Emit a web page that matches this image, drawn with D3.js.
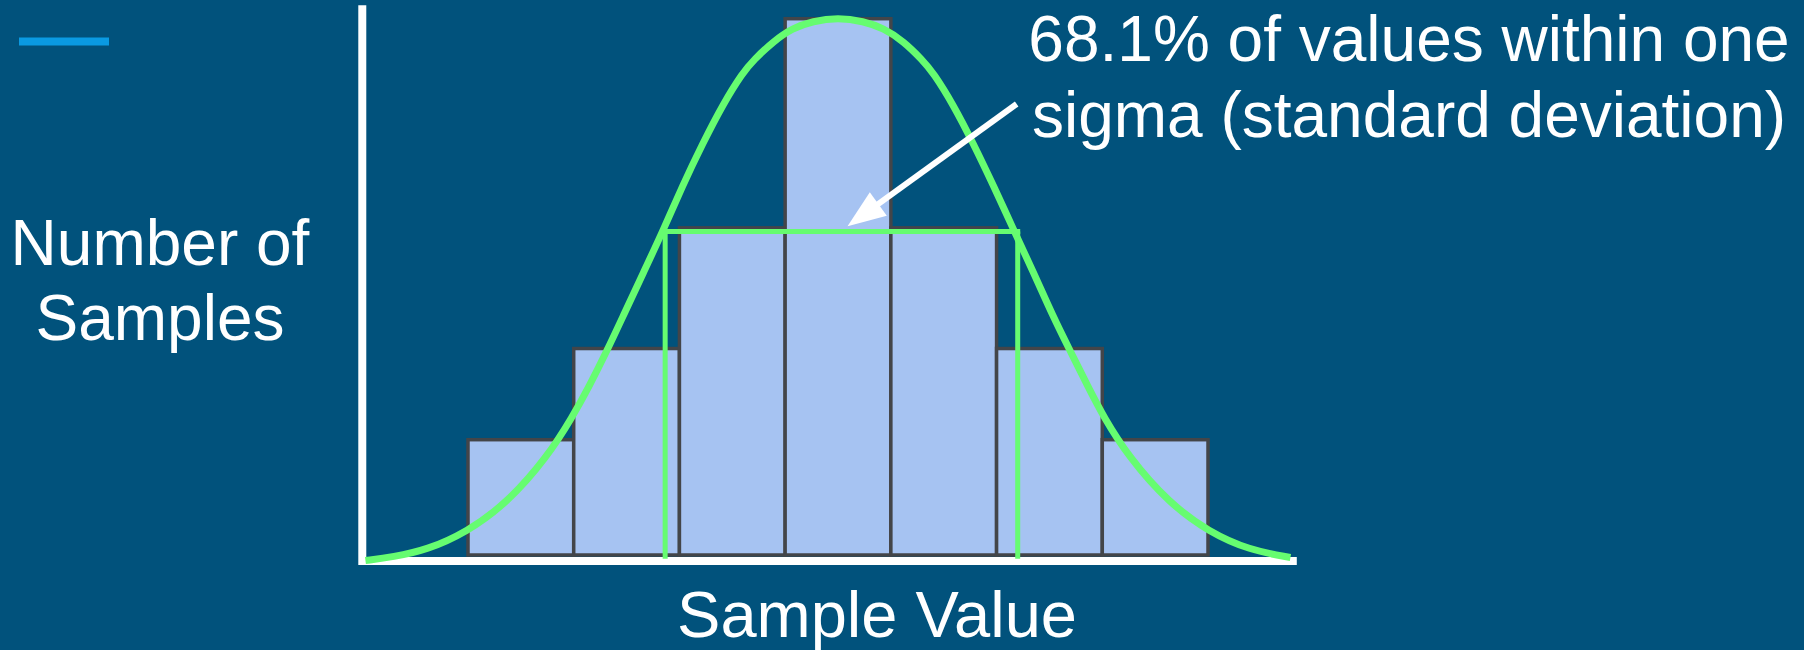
<!DOCTYPE html>
<html>
<head>
<meta charset="utf-8">
<title>Normal distribution - one sigma</title>
<script src="https://cdn.jsdelivr.net/npm/d3@7"></script>
<style>
  html, body { margin: 0; padding: 0; background: #01527c; }
  svg { display: block; }
  text { font-family: "Liberation Sans", Arial, sans-serif; fill: #ffffff; }
</style>
</head>
<body>
<div id="chart"></div>
<script>
// histogram bins (bin k covers sample value k..k+1)
const bins = [0, 1, 2, 3, 4, 5, 6];
const counts = [21.5, 38.5, 61, 100, 61, 38.5, 21.5];

// bell curve: [sample value, count]
const curveX = [-0.97, -0.71, -0.39, -0.01, 0.37, 0.75, 0.99, 1.14, 1.32, 1.47, 1.66, 1.85, 2.03, 2.22, 2.41, 2.60, 2.70, 2.89, 3.07, 3.26, 3.50,
                3.74, 3.93, 4.12, 4.30, 4.40, 4.59, 4.78, 4.97, 5.16, 5.35, 5.53, 5.69, 5.87, 6.01, 6.25, 6.63, 7.01, 7.39, 7.78];
const curveY = [-1.03, -0.37, 0.93, 4.29, 9.70, 18.27, 25.83, 31.21, 38.30, 44.66, 52.68, 60.69, 68.90, 76.73, 84.00, 89.97, 92.26, 95.80, 98.23, 99.53, 100.2,
                99.53, 98.23, 95.80, 92.26, 89.97, 84.00, 76.73, 68.90, 60.69, 52.68, 44.66, 38.30, 31.21, 25.83, 18.27, 9.70, 4.29, 0.93, -0.47];

// one sigma either side and the level where the curve crosses it
const sigmaX = [1.865, 5.2];
const sigmaLevel = 60.3;

// axis extent in data units
const xAxisRange = [-1.03, 7.84];
const yAxisRange = [-1.1, 102.5];

// arrow: from label to the sigma band
const arrowFrom = [5.19, 84.1];
const arrowTo = [3.59, 61.3];

const W = 1804, H = 650;
const svg = d3.select("#chart").append("svg")
    .attr("width", W)
    .attr("height", H);

svg.append("rect").attr("width", W).attr("height", H).attr("fill", "#01527c");

const x = d3.scaleLinear().domain([0, 7]).range([468, 1208]);
const y = d3.scaleLinear().domain([0, 100]).range([555, 18.7]);

// little blue dash top left
svg.append("line")
    .attr("x1", 19).attr("x2", 109)
    .attr("y1", 41.5).attr("y2", 41.5)
    .attr("stroke", "#0a9ae2")
    .attr("stroke-width", 8);

// bars
svg.append("g")
    .selectAll("rect")
    .data(bins)
    .join("rect")
    .attr("x", d => x(d))
    .attr("width", d => x(d + 1) - x(d))
    .attr("y", (d, i) => y(counts[i]))
    .attr("height", (d, i) => y(0) - y(counts[i]))
    .attr("fill", "#a6c3f2")
    .attr("stroke", "#434549")
    .attr("stroke-width", 3.5);

// axes
svg.append("line")
    .attr("x1", x(xAxisRange[0])).attr("x2", x(xAxisRange[1]))
    .attr("y1", y(yAxisRange[0])).attr("y2", y(yAxisRange[0]))
    .attr("stroke", "#ffffff").attr("stroke-width", 8);
svg.append("line")
    .attr("x1", x(-1.0)).attr("x2", x(-1.0))
    .attr("y1", y(yAxisRange[1])).attr("y2", y(yAxisRange[0]) + 4)
    .attr("stroke", "#ffffff").attr("stroke-width", 8);

// sigma lines
const green = "#66fc70";
sigmaX.forEach(s => {
    svg.append("line")
        .attr("x1", x(s)).attr("x2", x(s))
        .attr("y1", y(sigmaLevel)).attr("y2", y(-0.7))
        .attr("stroke", green).attr("stroke-width", 5);
});
svg.append("line")
    .attr("x1", x(sigmaX[0]) - 2.5).attr("x2", x(sigmaX[1]) + 2.5)
    .attr("y1", y(sigmaLevel)).attr("y2", y(sigmaLevel))
    .attr("stroke", green).attr("stroke-width", 5);

// bell curve
const line = d3.line()
    .x(d => x(d[0]))
    .y(d => y(d[1]))
    .curve(d3.curveBasis);
svg.append("path")
    .datum(curveX.map((v, i) => [v, curveY[i]]))
    .attr("d", line)
    .attr("fill", "none")
    .attr("stroke", green)
    .attr("stroke-width", 7);

// arrow
const x0 = x(arrowFrom[0]), y0 = y(arrowFrom[1]);
const x1 = x(arrowTo[0]), y1 = y(arrowTo[1]);
const len = Math.hypot(x0 - x1, y0 - y1);
const ux = (x0 - x1) / len, uy = (y0 - y1) / len;
const headLen = 38, headHalf = 14.5;
const bx = x1 + ux * headLen, by = y1 + uy * headLen;
svg.append("line")
    .attr("x1", x0).attr("y1", y0)
    .attr("x2", bx - ux * 2).attr("y2", by - uy * 2)
    .attr("stroke", "#ffffff").attr("stroke-width", 6);
svg.append("path")
    .attr("d", `M${x1},${y1}L${bx - uy * headHalf},${by + ux * headHalf}L${bx + uy * headHalf},${by - ux * headHalf}Z`)
    .attr("fill", "#ffffff");

// texts
svg.append("text")
    .attr("x", 1409).attr("y", 61)
    .attr("text-anchor", "middle")
    .attr("font-size", 64)
    .text("68.1% of values within one");
svg.append("text")
    .attr("x", 1409).attr("y", 137)
    .attr("text-anchor", "middle")
    .attr("font-size", 64)
    .text("sigma (standard deviation)");

svg.append("text")
    .attr("x", 160).attr("y", 265)
    .attr("text-anchor", "middle")
    .attr("font-size", 64)
    .text("Number of");
svg.append("text")
    .attr("x", 160).attr("y", 340)
    .attr("text-anchor", "middle")
    .attr("font-size", 64)
    .text("Samples");

svg.append("text")
    .attr("x", 877).attr("y", 637)
    .attr("text-anchor", "middle")
    .attr("font-size", 65)
    .text("Sample Value");
</script>
</body>
</html>
